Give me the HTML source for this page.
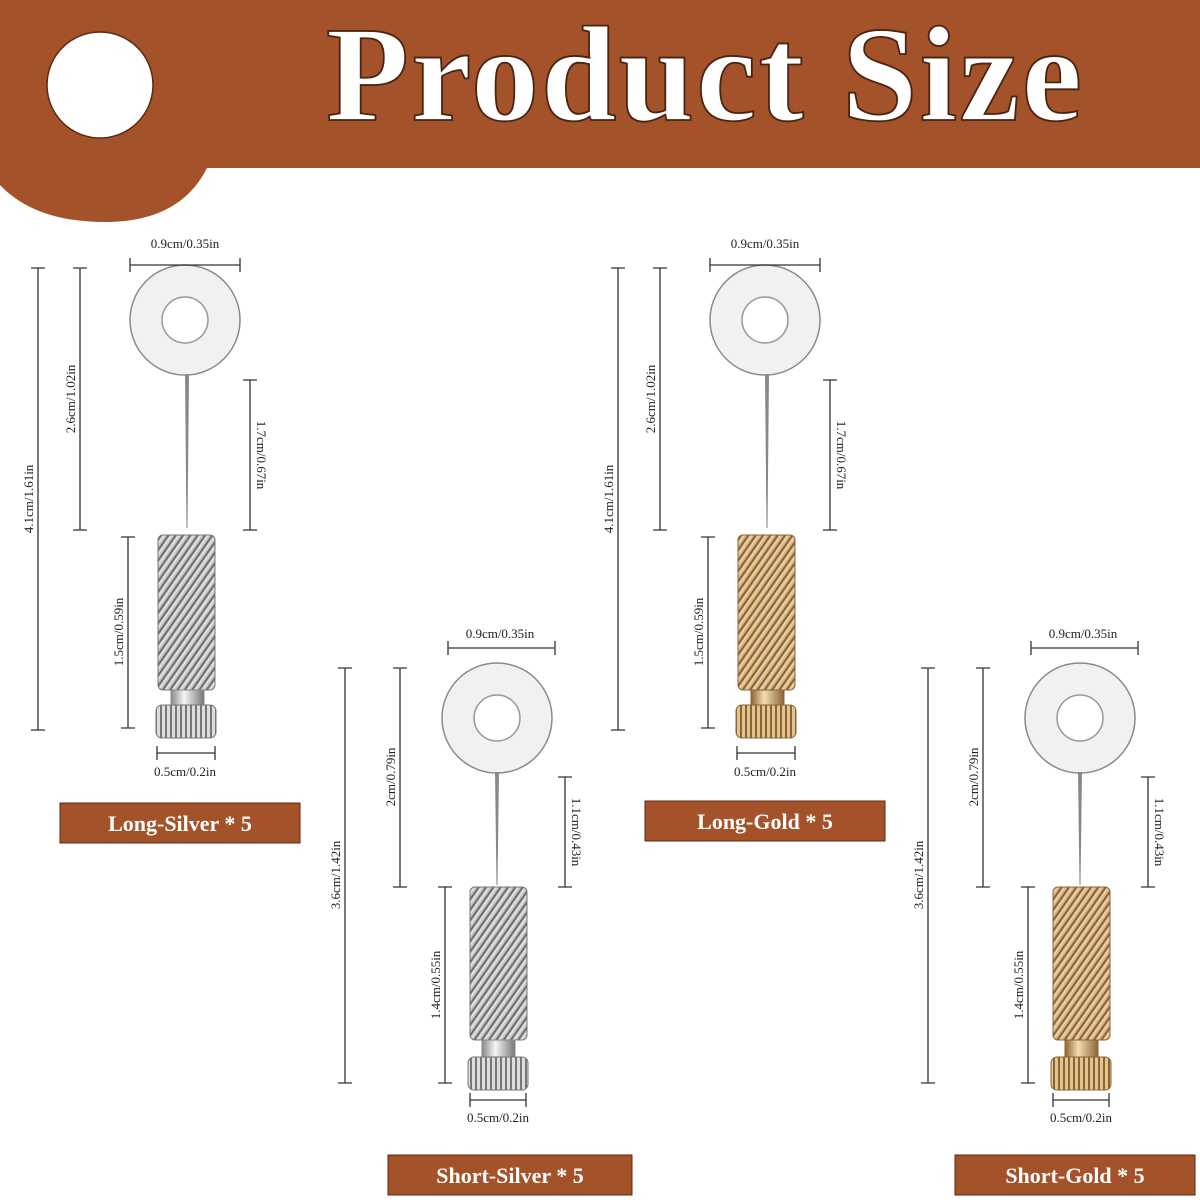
<!DOCTYPE html>
<html><head><meta charset="utf-8"><style>
html,body{margin:0;padding:0;background:#fff}
svg{display:block}
.t{font-family:"Liberation Serif",serif;font-size:13px;fill:#222}
.lb{font-family:"Liberation Serif",serif;font-size:22px;font-weight:bold;fill:#fff}
.d{stroke:#333;stroke-width:1.3;fill:none}
</style></head><body>
<svg width="1200" height="1200" viewBox="0 0 1200 1200" xmlns="http://www.w3.org/2000/svg">
<defs>
<pattern id="ks" width="6" height="6" patternUnits="userSpaceOnUse" patternTransform="rotate(35)">
<rect width="6" height="6" fill="#c9c9c9"/><rect width="2" height="6" fill="#6f6f6f"/><rect x="3" width="1" height="6" fill="#eee"/></pattern>
<pattern id="kg" width="6" height="6" patternUnits="userSpaceOnUse" patternTransform="rotate(35)">
<rect width="6" height="6" fill="#d9b888"/><rect width="2" height="6" fill="#8a6436"/><rect x="3" width="1" height="6" fill="#f2dcb8"/></pattern>
<pattern id="ns" width="5" height="10" patternUnits="userSpaceOnUse"><rect width="5" height="10" fill="#ddd"/><rect width="2" height="10" fill="#777"/></pattern>
<pattern id="ng" width="5" height="10" patternUnits="userSpaceOnUse"><rect width="5" height="10" fill="#e2c48e"/><rect width="2" height="10" fill="#8a6436"/></pattern>
<linearGradient id="ss" x1="0" x2="1"><stop offset="0" stop-color="#888"/><stop offset=".4" stop-color="#f5f5f5"/><stop offset="1" stop-color="#777"/></linearGradient>
<linearGradient id="sg" x1="0" x2="1"><stop offset="0" stop-color="#8a6436"/><stop offset=".4" stop-color="#f3ddb0"/><stop offset="1" stop-color="#8a6436"/></linearGradient>
<g id="washer"><circle r="55" fill="#f1f1f1" stroke="#8a8a8a" stroke-width="1.5"/><circle r="23" fill="#fff" stroke="#9a9a9a" stroke-width="1.5"/></g>
</defs>
<!-- header -->
<path d="M0 0 H1200 V168 H207 Q180 222 105 222 Q35 222 0 185 Z" fill="#a3522a"/>
<ellipse cx="100" cy="85" rx="53" ry="53" fill="#fff" stroke="#5a2a12" stroke-width="1.5"/>
<text x="705" y="120" text-anchor="middle" font-family="Liberation Serif,serif" font-weight="bold" font-size="136" fill="#fff" stroke="#4a2410" stroke-width="1.8" letter-spacing="2">Product Size</text>

<!-- LONG SILVER -->
<g>
<use href="#washer" x="185" y="320"/>
<polygon points="185,374 189,374 187.5,528 186.5,528" fill="#888"/>
<rect x="158" y="535" width="57" height="155" rx="5" fill="url(#ks)" stroke="#777"/>
<rect x="171" y="690" width="33" height="17" fill="url(#ss)" stroke="#888"/>
<rect x="156" y="705" width="60" height="33" rx="6" fill="url(#ns)" stroke="#777"/>
<path class="d" d="M38 268V730M31 268H45M31 730H45 M80 268V530M73 268H87M73 530H87 M250 380V530M243 380H257M243 530H257 M128 537V728M121 537H135M121 728H135 M130 265H240M130 258V272M240 258V272 M157 753H215M157 746V760M215 746V760"/>
<text class="t" x="185" y="248" text-anchor="middle">0.9cm/0.35in</text>
<text class="t" x="185" y="776" text-anchor="middle">0.5cm/0.2in</text>
<text class="t" transform="translate(33,499) rotate(-90)" text-anchor="middle">4.1cm/1.61in</text>
<text class="t" transform="translate(75,399) rotate(-90)" text-anchor="middle">2.6cm/1.02in</text>
<text class="t" transform="translate(123,632) rotate(-90)" text-anchor="middle">1.5cm/0.59in</text>
<text class="t" transform="translate(257,455) rotate(90)" text-anchor="middle">1.7cm/0.67in</text>
<rect x="60" y="803" width="240" height="40" fill="#a3522a" stroke="#5a2a12"/>
<text class="lb" x="180" y="831" text-anchor="middle">Long-Silver * 5</text>
</g>

<!-- LONG GOLD -->
<g transform="translate(580,0)">
<use href="#washer" x="185" y="320"/>
<polygon points="185,374 189,374 187.5,528 186.5,528" fill="#888"/>
<rect x="158" y="535" width="57" height="155" rx="5" fill="url(#kg)" stroke="#8a6436"/>
<rect x="171" y="690" width="33" height="17" fill="url(#sg)" stroke="#8a6436"/>
<rect x="156" y="705" width="60" height="33" rx="6" fill="url(#ng)" stroke="#8a6436"/>
<path class="d" d="M38 268V730M31 268H45M31 730H45 M80 268V530M73 268H87M73 530H87 M250 380V530M243 380H257M243 530H257 M128 537V728M121 537H135M121 728H135 M130 265H240M130 258V272M240 258V272 M157 753H215M157 746V760M215 746V760"/>
<text class="t" x="185" y="248" text-anchor="middle">0.9cm/0.35in</text>
<text class="t" x="185" y="776" text-anchor="middle">0.5cm/0.2in</text>
<text class="t" transform="translate(33,499) rotate(-90)" text-anchor="middle">4.1cm/1.61in</text>
<text class="t" transform="translate(75,399) rotate(-90)" text-anchor="middle">2.6cm/1.02in</text>
<text class="t" transform="translate(123,632) rotate(-90)" text-anchor="middle">1.5cm/0.59in</text>
<text class="t" transform="translate(257,455) rotate(90)" text-anchor="middle">1.7cm/0.67in</text>
<rect x="65" y="801" width="240" height="40" fill="#a3522a" stroke="#5a2a12"/>
<text class="lb" x="185" y="829" text-anchor="middle">Long-Gold * 5</text>
</g>

<!-- SHORT SILVER -->
<g>
<use href="#washer" x="497" y="718"/>
<polygon points="495,772 499,772 497.5,885 496.5,885" fill="#888"/>
<rect x="470" y="887" width="57" height="153" rx="5" fill="url(#ks)" stroke="#777"/>
<rect x="482" y="1040" width="33" height="18" fill="url(#ss)" stroke="#888"/>
<rect x="468" y="1057" width="60" height="33" rx="6" fill="url(#ns)" stroke="#777"/>
<path class="d" d="M345 668V1083M338 668H352M338 1083H352 M400 668V887M393 668H407M393 887H407 M565 777V887M558 777H572M558 887H572 M445 887V1083M438 887H452M438 1083H452 M448 648H555M448 641V655M555 641V655 M470 1100H526M470 1093V1107M526 1093V1107"/>
<text class="t" x="500" y="638" text-anchor="middle">0.9cm/0.35in</text>
<text class="t" x="498" y="1122" text-anchor="middle">0.5cm/0.2in</text>
<text class="t" transform="translate(340,875) rotate(-90)" text-anchor="middle">3.6cm/1.42in</text>
<text class="t" transform="translate(395,777) rotate(-90)" text-anchor="middle">2cm/0.79in</text>
<text class="t" transform="translate(440,985) rotate(-90)" text-anchor="middle">1.4cm/0.55in</text>
<text class="t" transform="translate(572,832) rotate(90)" text-anchor="middle">1.1cm/0.43in</text>
<rect x="388" y="1155" width="244" height="40" fill="#a3522a" stroke="#5a2a12"/>
<text class="lb" x="510" y="1183" text-anchor="middle">Short-Silver * 5</text>
</g>

<!-- SHORT GOLD -->
<g transform="translate(583,0)">
<use href="#washer" x="497" y="718"/>
<polygon points="495,772 499,772 497.5,885 496.5,885" fill="#888"/>
<rect x="470" y="887" width="57" height="153" rx="5" fill="url(#kg)" stroke="#8a6436"/>
<rect x="482" y="1040" width="33" height="18" fill="url(#sg)" stroke="#8a6436"/>
<rect x="468" y="1057" width="60" height="33" rx="6" fill="url(#ng)" stroke="#8a6436"/>
<path class="d" d="M345 668V1083M338 668H352M338 1083H352 M400 668V887M393 668H407M393 887H407 M565 777V887M558 777H572M558 887H572 M445 887V1083M438 887H452M438 1083H452 M448 648H555M448 641V655M555 641V655 M470 1100H526M470 1093V1107M526 1093V1107"/>
<text class="t" x="500" y="638" text-anchor="middle">0.9cm/0.35in</text>
<text class="t" x="498" y="1122" text-anchor="middle">0.5cm/0.2in</text>
<text class="t" transform="translate(340,875) rotate(-90)" text-anchor="middle">3.6cm/1.42in</text>
<text class="t" transform="translate(395,777) rotate(-90)" text-anchor="middle">2cm/0.79in</text>
<text class="t" transform="translate(440,985) rotate(-90)" text-anchor="middle">1.4cm/0.55in</text>
<text class="t" transform="translate(572,832) rotate(90)" text-anchor="middle">1.1cm/0.43in</text>
<rect x="372" y="1155" width="240" height="40" fill="#a3522a" stroke="#5a2a12"/>
<text class="lb" x="492" y="1183" text-anchor="middle">Short-Gold * 5</text>
</g>
</svg>
</body></html>
